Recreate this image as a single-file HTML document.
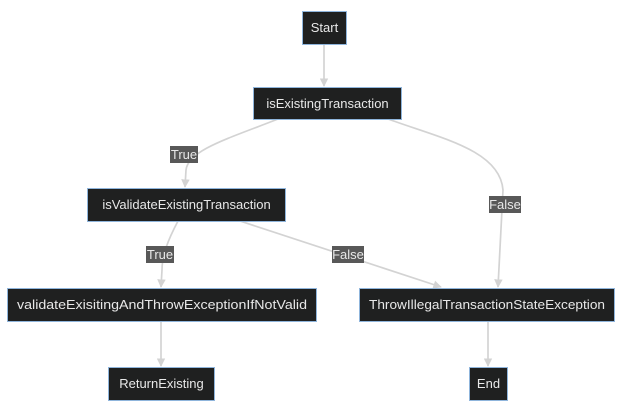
<!DOCTYPE html>
<html><head><meta charset="utf-8"><style>
html,body{margin:0;padding:0;background:#fff;}
svg text{font-family:"Liberation Sans",sans-serif;font-size:13px;fill:#e8e8e8;}
</style></head><body>
<svg width="625" height="413" viewBox="0 0 625 413" xmlns="http://www.w3.org/2000/svg">
<defs><marker id="a" viewBox="0 0 10 10" refX="9" refY="5" markerWidth="5" markerHeight="5" orient="auto"><path d="M0,0L10,5L0,10z" fill="#d3d3d3"/></marker></defs>
<g fill="none" stroke="#d3d3d3" stroke-width="1.7" marker-end="url(#a)">
<path d="M324,44V86"/>
<path d="M278,119C230,138 188,150 186,170L185,187"/>
<path d="M388,119C440,138 500,150 503,190L498,287"/>
<path d="M178,221C168,240 162,255 162,270L161,287"/>
<path d="M240,221L441,287"/>
<path d="M161,322V366"/>
<path d="M488,322V366"/>
</g>
<g fill="#585858">
<rect x="170" y="146" width="28" height="17"/>
<rect x="489" y="196" width="32" height="17"/>
<rect x="146" y="246" width="28" height="17"/>
<rect x="332" y="246" width="32" height="17"/>
</g>
<g text-anchor="middle">
<text x="184" y="159">True</text>
<text x="505" y="209">False</text>
<text x="160" y="259">True</text>
<text x="348" y="259">False</text>
</g>
<g fill="#1f2020" stroke="#8fb5dc" stroke-width="1">
<rect x="302.5" y="11.5" width="44" height="33"/>
<rect x="253.5" y="87.5" width="148" height="32"/>
<rect x="87.5" y="188.5" width="198" height="33"/>
<rect x="7.5" y="288.5" width="309" height="33"/>
<rect x="359.5" y="288.5" width="255" height="33"/>
<rect x="108.5" y="367.5" width="106" height="33"/>
<rect x="469.5" y="367.5" width="38" height="33"/>
</g>
<g text-anchor="middle">
<text x="324.5" y="32">Start</text>
<text x="327.5" y="108">isExistingTransaction</text>
<text x="186.5" y="209">isValidateExistingTransaction</text>
<text x="162" y="309" textLength="290" lengthAdjust="spacingAndGlyphs">validateExisitingAndThrowExceptionIfNotValid</text>
<text x="487" y="309" textLength="236" lengthAdjust="spacingAndGlyphs">ThrowIllegalTransactionStateException</text>
<text x="161.5" y="388">ReturnExisting</text>
<text x="488.5" y="388">End</text>
</g>
</svg>
</body></html>
